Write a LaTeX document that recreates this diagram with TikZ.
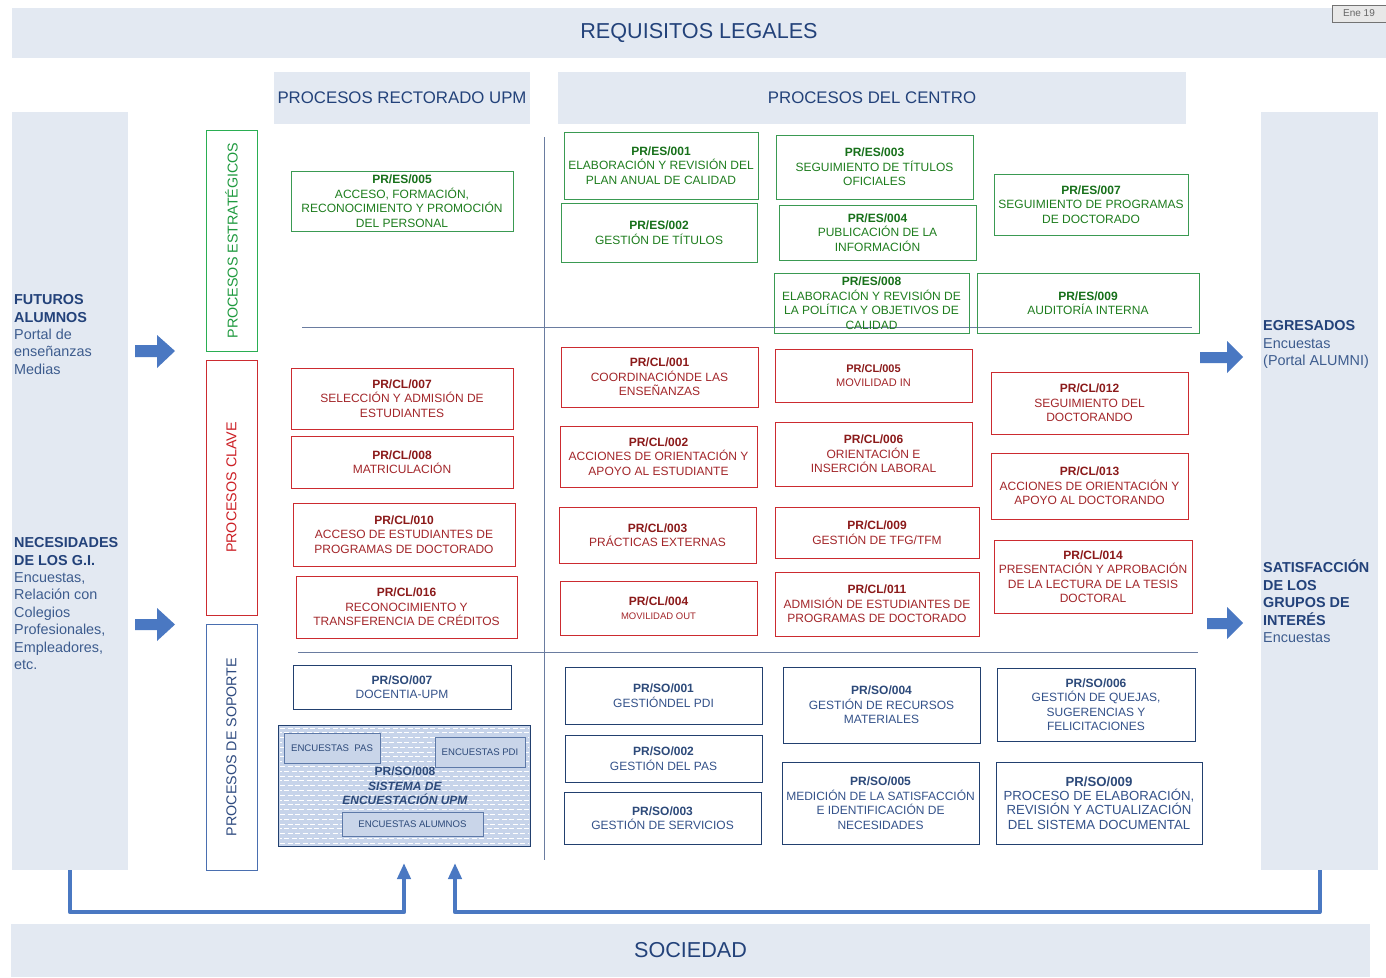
\documentclass[tikz,border=0pt]{standalone}
\usepackage{fontspec}
\setmainfont{Liberation Sans}
\usetikzlibrary{arrows.meta}
\definecolor{band}{HTML}{E3E9F2}
\definecolor{navy}{HTML}{23427A}
\definecolor{sidetxt}{HTML}{3D5C8E}
\definecolor{gtxt}{HTML}{1E7D1E}
\definecolor{gcode}{HTML}{17701A}
\definecolor{gline}{HTML}{3A9A52}
\definecolor{glbl}{HTML}{1F9A3F}
\definecolor{glblline}{HTML}{2AAE52}
\definecolor{rtxt}{HTML}{A3262A}
\definecolor{rcode}{HTML}{8B1A1A}
\definecolor{rline}{HTML}{CC2B30}
\definecolor{rlbl}{HTML}{CC1F25}
\definecolor{btxt}{HTML}{34528A}
\definecolor{bcode}{HTML}{2D4A7A}
\definecolor{bline}{HTML}{22406F}
\definecolor{blbl}{HTML}{2F4B80}
\definecolor{blblline}{HTML}{4A6FB0}
\definecolor{arrowblue}{HTML}{4A78C2}
\definecolor{sepline}{HTML}{6A7CA0}
\definecolor{patfill}{HTML}{C7D4EA}
\definecolor{encfill}{HTML}{C9D5E9}
\definecolor{encline}{HTML}{5D79A8}
\newcommand\codeg[1]{\textcolor{gcode}{\bfseries #1}}
\newcommand\coder[1]{\textcolor{rcode}{\bfseries #1}}
\newcommand\codeb[1]{\textcolor{bcode}{\bfseries #1}}
\newcommand\sidehead[1]{\textcolor{navy}{\bfseries #1}}
\newcommand\procbox[7]{\node[#2, minimum width={(#5)-(#3)}, minimum height={(#6)-(#4)}] (#1) at ({((#3)+(#5))/2},{((#4)+(#6))/2}) {#7};}
\tikzset{
  bandbox/.style={fill=band, draw=none, inner sep=0pt, text=navy},
  pbase/.style={line width=0.9pt, align=center, inner sep=1pt, font=\fontsize{12}{14.5}\selectfont},
  es/.style={pbase, draw=gline, text=gtxt},
  cl/.style={pbase, draw=rline, text=rtxt},
  so/.style={pbase, draw=bline, line width=0.9pt, text=btxt},
  lbl/.style={line width=1pt, inner sep=0pt, rotate=90, font=\fontsize{14.3}{16}\selectfont},
  sidetext/.style={anchor=north west, inner sep=0pt, align=left, text=sidetxt, font=\fontsize{14.4}{17.4}\selectfont},
  encbox/.style={fill=encfill, draw=encline, line width=0.8pt, inner sep=0pt, text=bcode, font=\fontsize{9.6}{11}\selectfont},
  conn/.style={draw=arrowblue, line width=4pt, line join=round, -{Triangle[length=16pt,width=13pt]}},
  sep/.style={draw=sepline, line width=0.8pt}
}
\begin{document}
\begin{tikzpicture}[x=1pt,y=-1pt]
\useasboundingbox (0,0) rectangle (1386,977);
\fill[white] (0,0) rectangle (1386,977);

% bands
\node[bandbox, minimum width=1374, minimum height=50, font=\fontsize{21.6}{24}\selectfont] (req) at (699,33) {REQUISITOS LEGALES};
\node[bandbox, minimum width=1359, minimum height=53, font=\fontsize{21.6}{24}\selectfont] (soc) at (690.5,950.5) {SOCIEDAD};
\node[bandbox, minimum width=256, minimum height=52, font=\fontsize{16.8}{19}\selectfont] (hrect) at (402,98) {PROCESOS RECTORADO UPM};
\node[bandbox, minimum width=628, minimum height=52, font=\fontsize{16.8}{19}\selectfont] (hcent) at (872,98) {PROCESOS DEL CENTRO};
\node[bandbox, minimum width=116, minimum height=758] (leftp) at (70,491) {};
\node[bandbox, minimum width=117, minimum height=758] (rightp) at (1319.5,491) {};
\node[fill=black!9, draw=black!55, line width=0.8pt, minimum width=54, minimum height=17, inner sep=0pt, text=black!60, font=\fontsize{10}{11}\selectfont] (ene) at (1359,13.5) {Ene 19};

% side texts
\node[sidetext] (futuros) at (14,294.5) {\sidehead{FUTUROS}\\\sidehead{ALUMNOS}\\Portal de\\enseñanzas\\Medias};
\node[sidetext] (necesid) at (14,537.5) {\sidehead{NECESIDADES}\\\sidehead{DE LOS G.I.}\\Encuestas,\\Relación con\\Colegios\\Profesionales,\\Empleadores,\\etc.};
\node[sidetext] (egres) at (1263,320.5) {\sidehead{EGRESADOS}\\Encuestas\\(Portal ALUMNI)};
\node[sidetext] (satisf) at (1263,560) {\sidehead{SATISFACCIÓN}\\\sidehead{DE LOS}\\\sidehead{GRUPOS DE}\\\sidehead{INTERÉS}\\Encuestas};

% block arrows
\fill[arrowblue] (135,345) -- (157,345) -- (157,335) -- (175,351) -- (157,368) -- (157,357) -- (135,357) -- cycle;
\fill[arrowblue] (135,619) -- (157,619) -- (157,608) -- (175,624.5) -- (157,641) -- (157,630) -- (135,630) -- cycle;
\fill[arrowblue] (1200,352) -- (1227,352) -- (1227,341) -- (1243,357) -- (1227,373) -- (1227,363) -- (1200,363) -- cycle;
\fill[arrowblue] (1207,618) -- (1227,618) -- (1227,607) -- (1243,623) -- (1227,639) -- (1227,629) -- (1207,629) -- cycle;

% category labels
\node[lbl, draw=glblline, text=glbl, minimum width=221, minimum height=51] (lblES) at (231.5,240.5) {PROCESOS ESTRATÉGICOS};
\node[lbl, draw=rline, text=rlbl, minimum width=255, minimum height=51] (lblCL) at (231.5,487.5) {PROCESOS CLAVE};
\node[lbl, draw=blblline, text=blbl, minimum width=246, minimum height=51] (lblSO) at (231.5,747) {PROCESOS DE SOPORTE};

% separators
\draw[sep] (544,137) -- (544,860);
\draw[sep] (302,327) -- (1192,327);
\draw[sep] (298,652) -- (1198,652);

% strategic
\procbox{es005}{es}{291}{171}{513}{231}{\codeg{PR/ES/005}\\ACCESO, FORMACIÓN,\\RECONOCIMIENTO Y PROMOCIÓN\\DEL PERSONAL}
\procbox{es001}{es}{564}{132}{758}{199}{\codeg{PR/ES/001}\\ELABORACIÓN Y REVISIÓN DEL\\PLAN ANUAL DE CALIDAD}
\procbox{es002}{es}{561}{203}{757}{262}{\codeg{PR/ES/002}\\GESTIÓN DE TÍTULOS}
\procbox{es003}{es}{776}{135}{973}{199}{\codeg{PR/ES/003}\\SEGUIMIENTO DE TÍTULOS\\OFICIALES}
\procbox{es004}{es}{779}{205}{976}{260}{\codeg{PR/ES/004}\\PUBLICACIÓN DE LA\\INFORMACIÓN}
\procbox{es007}{es}{994}{174}{1188}{235}{\codeg{PR/ES/007}\\SEGUIMIENTO DE PROGRAMAS\\DE DOCTORADO}
\procbox{es008}{es}{774}{273}{969}{333}{\codeg{PR/ES/008}\\ELABORACIÓN Y REVISIÓN DE\\LA POLÍTICA Y OBJETIVOS DE\\CALIDAD}
\procbox{es009}{es}{977}{273}{1199}{333}{\codeg{PR/ES/009}\\AUDITORÍA INTERNA}

% key
\procbox{cl007}{cl}{291}{368}{513}{429}{\coder{PR/CL/007}\\SELECCIÓN Y ADMISIÓN DE\\ESTUDIANTES}
\procbox{cl008}{cl}{291}{436}{513}{488}{\coder{PR/CL/008}\\MATRICULACIÓN}
\procbox{cl010}{cl}{293}{503}{515}{566}{\coder{PR/CL/010}\\ACCESO DE ESTUDIANTES DE\\PROGRAMAS DE DOCTORADO}
\procbox{cl016}{cl}{296}{576}{517}{638}{\coder{PR/CL/016}\\RECONOCIMIENTO Y\\TRANSFERENCIA DE CRÉDITOS}
\procbox{cl001}{cl}{561}{347}{758}{407}{\coder{PR/CL/001}\\COORDINACIÓNDE LAS\\ENSEÑANZAS}
\procbox{cl002}{cl}{560}{426}{757}{487}{\coder{PR/CL/002}\\ACCIONES DE ORIENTACIÓN Y\\APOYO AL ESTUDIANTE}
\procbox{cl003}{cl}{559}{507}{756}{563}{\coder{PR/CL/003}\\PRÁCTICAS EXTERNAS}
\procbox{cl004}{cl}{560}{581}{757}{635}{\coder{PR/CL/004}\\{\fontsize{9.5}{11}\selectfont MOVILIDAD OUT}}
\procbox{cl005}{cl, font=\fontsize{11}{13.5}\selectfont}{775}{349}{972}{402}{\coder{PR/CL/005}\\MOVILIDAD IN}
\procbox{cl006}{cl}{775}{422}{972}{486}{\coder{PR/CL/006}\\ORIENTACIÓN E\\INSERCIÓN LABORAL}
\procbox{cl009}{cl}{775}{507}{979}{558}{\coder{PR/CL/009}\\GESTIÓN DE TFG/TFM}
\procbox{cl011}{cl}{775}{572}{979}{636}{\coder{PR/CL/011}\\ADMISIÓN DE ESTUDIANTES DE\\PROGRAMAS DE DOCTORADO}
\procbox{cl012}{cl}{991}{372}{1188}{434}{\coder{PR/CL/012}\\SEGUIMIENTO DEL\\DOCTORANDO}
\procbox{cl013}{cl}{991}{453}{1188}{519}{\coder{PR/CL/013}\\ACCIONES DE ORIENTACIÓN Y\\APOYO AL DOCTORANDO}
\procbox{cl014}{cl}{994}{540}{1192}{613}{\coder{PR/CL/014}\\PRESENTACIÓN Y APROBACIÓN\\DE LA LECTURA DE LA TESIS\\DOCTORAL}

% support
\procbox{so007}{so}{293}{665}{511}{709}{\codeb{PR/SO/007}\\DOCENTIA-UPM}
\procbox{so001}{so}{565}{667}{762}{724}{\codeb{PR/SO/001}\\GESTIÓNDEL PDI}
\procbox{so002}{so}{565}{735}{762}{782}{\codeb{PR/SO/002}\\GESTIÓN DEL PAS}
\procbox{so003}{so}{564}{792}{761}{844}{\codeb{PR/SO/003}\\GESTIÓN DE SERVICIOS}
\procbox{so004}{so}{783}{667}{980}{743}{\codeb{PR/SO/004}\\GESTIÓN DE RECURSOS\\MATERIALES}
\procbox{so005}{so}{782}{762}{979}{844}{\codeb{PR/SO/005}\\MEDICIÓN DE LA SATISFACCIÓN\\E IDENTIFICACIÓN DE\\NECESIDADES}
\procbox{so006}{so}{997}{668}{1195}{741}{\codeb{PR/SO/006}\\GESTIÓN DE QUEJAS,\\SUGERENCIAS Y\\FELICITACIONES}
\procbox{so009}{so, font=\fontsize{13.2}{14.3}\selectfont}{996}{762}{1202}{844}{\codeb{PR/SO/009}\\PROCESO DE ELABORACIÓN,\\REVISIÓN Y ACTUALIZACIÓN\\DEL SISTEMA DOCUMENTAL}

% PR/SO/008 survey system
\node[fill=patfill, draw=none, minimum width=251, minimum height=120, inner sep=0pt] (so008) at (404.5,786) {};
\begin{scope}
  \clip (280,727) rectangle (529,845);
  \foreach \r in {0,2,...,24} {\draw[white, line width=0.8pt, dash pattern=on 5pt off 2.5pt] (280,{728+\r*4.8}) -- (530,{728+\r*4.8});}
  \foreach \r in {1,3,...,23} {\draw[white, line width=0.8pt, dash pattern=on 5pt off 2.5pt, dash phase=3.5pt] (280,{728+\r*4.8}) -- (530,{728+\r*4.8});}
\end{scope}
\draw[draw=bline, line width=1.2pt] (so008.north west) rectangle (so008.south east);
\node[encbox, minimum width=96, minimum height=30] (encpas) at (332,748) {ENCUESTAS\ \ PAS};
\node[encbox, minimum width=90, minimum height=30] (encpdi) at (480,752) {ENCUESTAS PDI};
\node[encbox, minimum width=141, minimum height=24] (encalu) at (412.5,824) {ENCUESTAS ALUMNOS};
\node[align=center, inner sep=0pt, text=bcode, font=\fontsize{12}{14.5}\selectfont\bfseries] (so008t) at (405,786) {PR/SO/008\\\textit{SISTEMA DE}\\\textit{ENCUESTACIÓN UPM}};

% society feedback connectors
\coordinate (ltip) at (404,863);
\coordinate (rtip) at (455,863);
\draw[conn] (leftp.south) -- ++(0,42) -| (ltip);
\draw[conn] (rightp.south) -- ++(0,42) -| (rtip);
\end{tikzpicture}
\end{document}
